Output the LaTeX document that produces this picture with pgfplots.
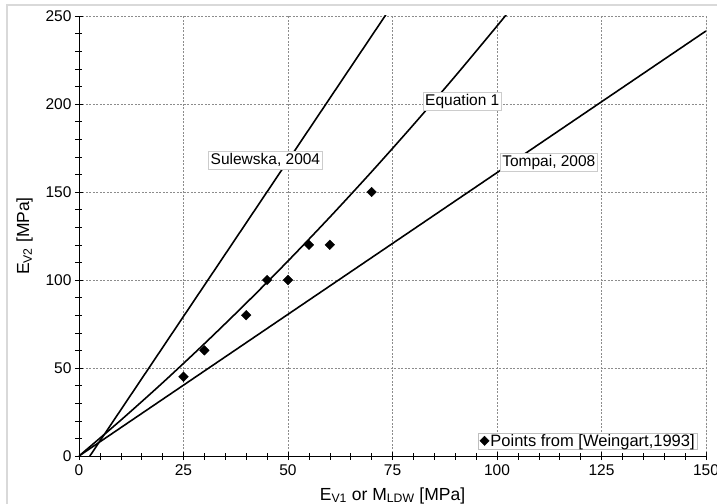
\documentclass[border=0pt]{standalone}
\usepackage{fontspec}
\setmainfont{Liberation Sans}
\usepackage{pgfplots}
\pgfplotsset{compat=1.18}
\usetikzlibrary{calc}
\definecolor{gridgray}{HTML}{8C8C8C}
\definecolor{framegray}{HTML}{D9D9D9}
\newcommand{\fs}{\fontsize{15.5bp}{18bp}\selectfont}
\newcommand{\fl}{\fontsize{17.5bp}{20bp}\selectfont}
\begin{document}
\begin{tikzpicture}
\begin{axis}[
    scale only axis,
    width=627bp, height=440bp,
    xmin=0, xmax=150, ymin=0, ymax=250,
    xtick={0,25,...,150}, ytick={0,50,...,250},
    minor x tick num=4, minor y tick num=4,
    axis lines=left,
    axis line style={-, black, line width=0.8pt},
    tick align=center,
    major tick length=8bp, minor tick length=7bp,
    tick style={black, line width=0.6pt},
    grid=major,
    major grid style={gridgray, line width=0.5pt, dash pattern=on 2bp off 1.5bp},
    /pgf/number format/assume math mode=true,
    tick label style={font=\fs},
    xticklabel style={yshift=-1bp},
    label style={font=\fl},
    xlabel={E\textsubscript{V1} or M\textsubscript{LDW} [MPa]},
    ylabel={E\textsubscript{V2} [MPa]},
    xlabel style={yshift=-5bp},
    ylabel style={yshift=6bp},
    clip=true,
    legend style={at={(0.987,0.016)}, anchor=south east, draw=gray!50,
        font=\fontsize{16.5bp}{19bp}\selectfont, inner xsep=2bp, inner ysep=0.2bp,
        nodes={inner sep=1bp}},
    legend cell align=left,
    legend image code/.code={\draw[#1] (0bp,0bp) circle[radius=0pt];
        \fill[black, rotate=45] (-3.3bp,-3.3bp) rectangle (3.3bp,3.3bp);},
]
% Tompai, 2008
\addplot[black, line width=1.6pt, forget plot] coordinates {(0,0) (150,241.5)};
% Sulewska, 2004
\addplot[black, line width=1.6pt, forget plot] coordinates {(2.6,0) (74,252.8)};
% Equation 1
\addplot[black, line width=1.6pt, smooth, forget plot] coordinates {
    (0,0) (10,20.35) (20,41.6) (30,63.8) (40,86.85) (50,110.8)
    (60,135.7) (70,161.5) (80,188.2) (90,215.8) (100,244.3) (105,258.9)};
% Weingart points
\addplot[only marks, mark=square*, mark size=3.4bp,
    mark options={rotate=45, fill=black, draw=black}] coordinates {
    (25,45) (30,60) (40,80) (45,100) (50,100) (55,120) (60,120) (70,150)};
\addlegendentry{Points from [Weingart,1993]}

\node[fill=white, draw=gray!40, line width=0.5pt, inner sep=2bp, font=\fs]
    at (axis cs:44.6,168) {Sulewska, 2004};
\node[fill=white, draw=gray!40, line width=0.5pt, inner sep=2bp, font=\fs]
    at (axis cs:91.7,201.7) {Equation 1};
\node[fill=white, draw=gray!40, line width=0.5pt, inner sep=2bp, font=\fs]
    at (axis cs:112.4,166.8) {Tompai, 2008};

\draw[gray!80, line width=0.8pt] (axis description cs:1,0) -- (axis description cs:1,1);
\draw[black, line width=0.8pt] (axis description cs:0,0) -- (axis description cs:0,1);
\draw[black, line width=0.8pt] (axis description cs:0,0) -- (axis description cs:1,0);
\end{axis}
\draw[framegray, line width=1.2pt] ($(current axis.south west)+(-72bp,-50bp)$)
    -- ++(0,501bp) -- ++(720bp,0);
\pgfresetboundingbox
\path[use as bounding box] ($(current axis.south west)+(-79bp,-48bp)$) rectangle ++(717bp,504bp);
\end{tikzpicture}
\end{document}
